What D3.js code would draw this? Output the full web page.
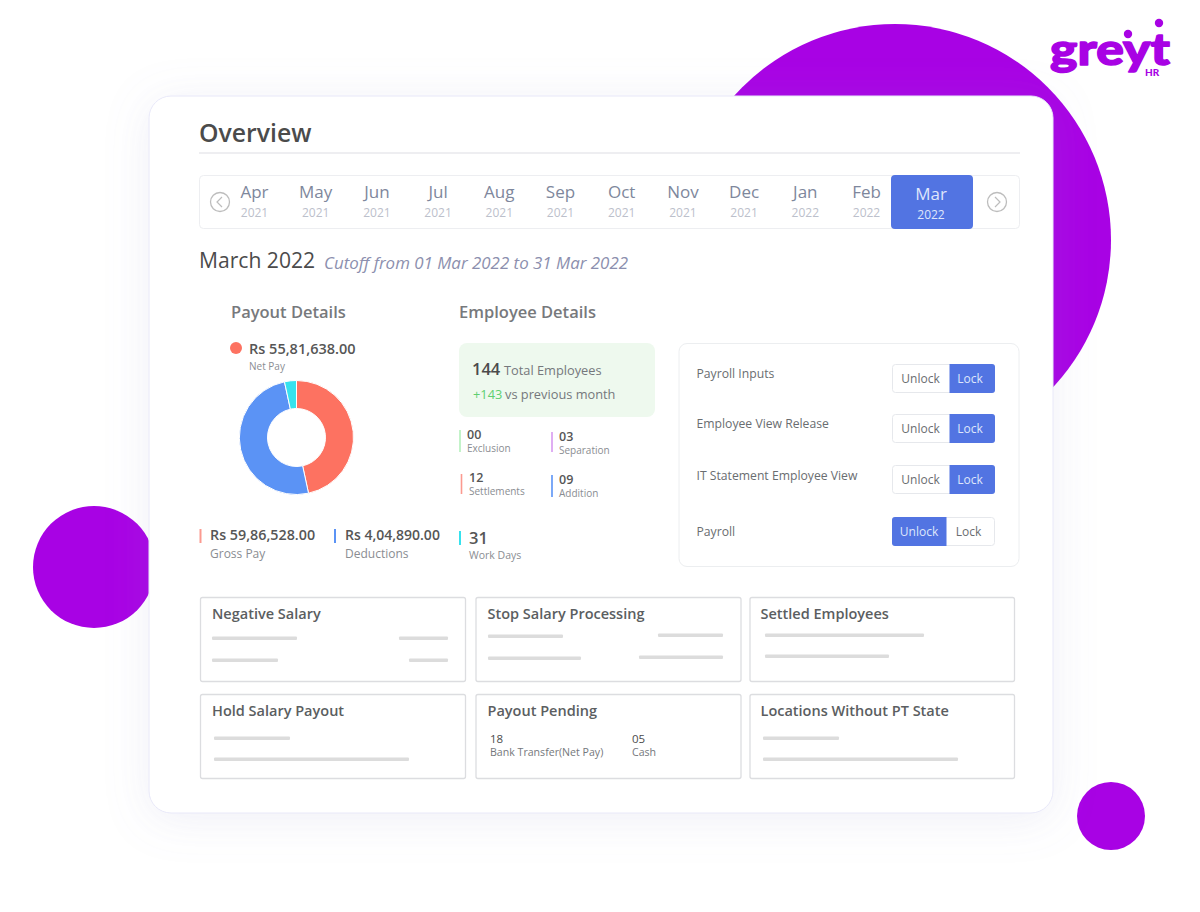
<!DOCTYPE html>
<html><head><meta charset="utf-8">
<style>html,body{margin:0;padding:0;background:#fff;overflow:hidden}svg{display:block}text{font-family:"Open Sans",sans-serif}</style>
<script src="https://cdn.jsdelivr.net/npm/d3@7"></script></head>
<body><svg id="c" width="1200" height="912"></svg>
<script>
const months=["Apr","May","Jun","Jul","Aug","Sep","Oct","Nov","Dec","Jan","Feb"];
const monthYears=["2021","2021","2021","2021","2021","2021","2021","2021","2021","2022","2022"];
const payoutLabels=["Net Pay","Gross Pay","Deductions"];
const payoutValues=[5581638,5986528,404890];
const payoutText=["Rs 55,81,638.00","Rs 59,86,528.00","Rs 4,04,890.00"];
const payoutColors=["#fd7261","#5b93f5","#36e2ee"];
const statLabels=["Exclusion","Separation","Settlements","Addition"];
const statValues=["00","03","12","09"];
const lockLabels=["Payroll Inputs","Employee View Release","IT Statement Employee View","Payroll"];
const lockActive=["Lock","Lock","Lock","Unlock"];
const tileTitles=["Negative Salary","Stop Salary Processing","Settled Employees","Hold Salary Payout","Payout Pending","Locations Without PT State"];

const svg=d3.select("#c");
const purple="#a802e4",blue="#5274e2",dark="#4b4b4b",mid="#666a6e",soft="#8a8d92";
const defs=svg.append("defs");
const f=defs.append("filter").attr("id","sh").attr("x","-10%").attr("y","-10%").attr("width","120%").attr("height","120%");
f.append("feDropShadow").attr("dx",0).attr("dy",6).attr("stdDeviation",22).attr("flood-color","#8f8fc8").attr("flood-opacity",0.14);
function T(x,y,s,size,fill,o={}){
  return svg.append("text").attr("x",x).attr("y",y).text(s).attr("font-size",size).attr("fill",fill)
   .attr("font-weight",o.w||400).attr("text-anchor",o.a||"start").attr("font-style",o.i?"italic":"normal");
}
function R(x,y,w,h,r,fill,stroke,sw){
  return svg.append("rect").attr("x",x).attr("y",y).attr("width",w).attr("height",h).attr("rx",r)
   .attr("fill",fill).attr("stroke",stroke||"none").attr("stroke-width",sw||1);
}
// background circles
[[895,240,216],[94,567,61],[1111,816,34]].forEach(c=>svg.append("circle").attr("cx",c[0]).attr("cy",c[1]).attr("r",c[2]).attr("fill",purple));
// logo
T(1050,65,"greyt",44,purple,{w:900}).style("font-family","Lato").attr("textLength",120).attr("lengthAdjust","spacingAndGlyphs")
 .attr("stroke",purple).attr("stroke-width",1.4).attr("stroke-linejoin","round");
svg.append("circle").attr("cx",1128).attr("cy",34).attr("r",4.2).attr("fill",purple);
svg.append("circle").attr("cx",1159).attr("cy",23).attr("r",4.2).attr("fill",purple);
T(1145,76,"HR",10,purple,{w:900}).style("font-family","Lato");
// card
R(149,96,904,717,22,"#fff","#e8e8f8",1).attr("filter","url(#sh)");
T(199,142,"Overview",24.8,dark,{w:600});
svg.append("line").attr("x1",199).attr("x2",1020).attr("y1",153).attr("y2",153).attr("stroke","#e8e9ec").attr("stroke-width",1.5);
// month strip
R(199.5,175.5,820,53,4,"#fff","#edeef1");
const mx=d3.scalePoint().domain(months).range([254.5,866.5]);
months.forEach((m,i)=>{
  T(mx(m),198,m,17,"#7e879c",{a:"middle",w:500});
  T(mx(m),217,monthYears[i],12,"#bcc0cb",{a:"middle"});
});
R(891,175,82,54,4,blue);
T(931,200,"Mar",17,"#dfe6fb",{a:"middle",w:500});
T(931,219,"2022",12,"#dfe6fb",{a:"middle"});
[[220,"M222,197 l-5,5 l5,5"],[997,"M995,197 l5,5 l-5,5"]].forEach(a=>{
  svg.append("circle").attr("cx",a[0]).attr("cy",202).attr("r",9.5).attr("fill","#fff").attr("stroke","#bdbdbd").attr("stroke-width",1.3);
  svg.append("path").attr("d",a[1]).attr("fill","none").attr("stroke","#bdbdbd").attr("stroke-width",1.2);
});
T(199,268,"March 2022",21.1,dark,{w:500});
T(324,269,"Cutoff from 01 Mar 2022 to 31 Mar 2022",16.9,"#8c8fae",{i:true,w:500});
// payout
T(231,318,"Payout Details",16.5,"#77797c",{w:600});
svg.append("circle").attr("cx",236).attr("cy",348).attr("r",6).attr("fill",payoutColors[0]);
T(249,354,payoutText[0],14.5,"#565656",{w:600});
T(249,370,payoutLabels[0],10,soft);
const pie=d3.pie().sort(null)(payoutValues);
const arc=d3.arc().innerRadius(29).outerRadius(57);
svg.append("g").attr("transform","translate(296.5,437.5)").selectAll("path").data(pie).join("path")
 .attr("d",arc).attr("fill",(d,i)=>payoutColors[i]).attr("stroke","#fff").attr("stroke-width",1);
function stat(xb,y1,y2,c,xt,val,lab,vs,vy,ly,ls,w){
  svg.append("line").attr("x1",xb).attr("x2",xb).attr("y1",y1).attr("y2",y2).attr("stroke",c).attr("stroke-width",w||2);
  T(xt,vy,val,vs,"#565656",{w:600});
  T(xt,ly,lab,ls,soft);
}
stat(200.5,529,543,"#fb9a90",210,payoutText[1],payoutLabels[1],14.3,540,558,12);
stat(335,529,543,"#5b93f5",345,payoutText[2],payoutLabels[2],14,540,558,12);
stat(460,531,545,"#36e2ee",469,"31","Work Days",16.5,544,559,10.5);
// employee
T(459,318,"Employee Details",16.5,"#77797c",{w:600});
R(459,343,196,74,8,"#eef9ee");
T(472,375,"144",16.5,dark,{w:600});
T(504,375,"Total Employees",12.8,"#75787c",{w:500});
T(473,399,"+143",12.8,"#5fcf70",{w:500});
T(505,399,"vs previous month",12.8,"#75787c",{w:500});
const statPos=[[460,430,452,"#b4f0bc",467,439,452],[552,432,452,"#d79af0",559,441,454],[461.5,474,494,"#fb9a90",469,482,495],[552,475,497,"#5b93f5",559,484,497]];
statPos.forEach((p,i)=>{
  svg.append("line").attr("x1",p[0]).attr("x2",p[0]).attr("y1",p[1]).attr("y2",p[2]).attr("stroke",p[3]).attr("stroke-width",1.6);
  T(p[4],p[5],statValues[i],12.5,"#565656",{w:600});
  T(p[4],p[6],statLabels[i],10,soft,{w:500});
});
// locks
R(679,343.5,340,223,8,"#fff","#eceef0");
const lockY=[364,414,465,517], textY=[378,428,480,536];
lockLabels.forEach((l,i)=>{
  T(696.5,textY[i],l,12.2,"#6a6d70",{w:500});
  const y=lockY[i], un=lockActive[i]==="Unlock", split=un?946.5:949.5;
  R(892.5,y+.5,102,28,3,"#fff","#e6e8ec");
  if(un) svg.append("path").attr("d",`M${split},${y} H895 a3,3 0 0 0 -3,3 V${y+26} a3,3 0 0 0 3,3 H${split} Z`).attr("fill",blue);
  else svg.append("path").attr("d",`M${split},${y} H992 a3,3 0 0 1 3,3 V${y+26} a3,3 0 0 1 -3,3 H${split} Z`).attr("fill",blue);
  T(un?919:920.5,y+19,"Unlock",12,un?"#dfe6fb":"#6a6d70",{a:"middle"});
  T(un?968.5:970,y+19,"Lock",12,un?"#6a6d70":"#dfe6fb",{a:"middle"});
});
// tiles
const tileX=[200.5,476,750], tileW=[265,265,264.5], tileY=[597.5,694.5];
tileTitles.forEach((t,i)=>{
  const c=i%3,r=Math.floor(i/3);
  R(tileX[c],tileY[r],tileW[c],84,2,"#fff","#dcdde0",1.3);
  T(tileX[c]+(c==2?10.5:11.5),tileY[r]+21.5,t,14.5,"#5b5e61",{w:600});
});
const bars=[[212,638,85],[399,638,49],[212,660,66],[409,660,39],[488,636,75],[658,635,65],[488,658,93],[639,657,84],[765,635,159],[765,656,124],[214,738,76],[214,759,195],[763,738,76],[763,759,195]];
svg.append("g").selectAll("rect").data(bars).join("rect").attr("x",d=>d[0]).attr("y",d=>d[1]-1.5).attr("width",d=>d[2]).attr("height",3.5).attr("rx",1).attr("fill","#dcdcdc");
T(490,743,"18",11.5,dark,{w:500});
T(490,755.5,"Bank Transfer(Net Pay)",10.6,"#75787c");
T(632,743,"05",11.5,dark,{w:500});
T(632,755.5,"Cash",10.6,"#75787c");
</script></body></html>
